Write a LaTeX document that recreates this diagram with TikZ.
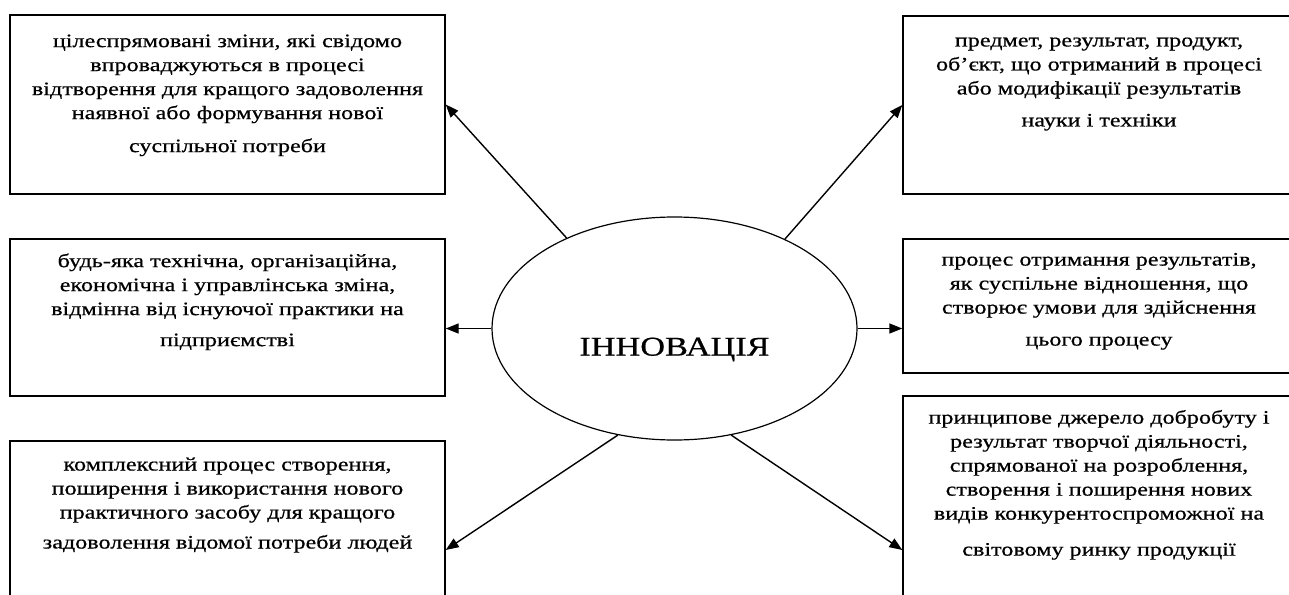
\documentclass[tikz,border=0pt]{standalone}
\usepackage{fontspec}
\setmainfont{Liberation Serif}[FakeStretch=1.27,FakeBold=0.6]
\usetikzlibrary{positioning}
\usetikzlibrary{shapes.geometric}
\usetikzlibrary{arrows.meta}

\begin{document}
\begin{tikzpicture}[x=1pt,y=-1pt,
  box/.style={draw,line width=1.4pt,rectangle,inner sep=0pt},
  txt/.style={align=center,inner sep=0pt,font=\fontsize{19}{24}\selectfont},
  arr/.style={line width=1.4pt,-{Triangle[length=13pt,width=10pt]}}]
 \useasboundingbox (0,0) rectangle (1289,594);
 \clip (0,0) rectangle (1289,594);
 % boxes on the left
 \node[box,minimum width=435pt,minimum height=179pt] (b1) at (227.5,104.5) {};
 \node[box,minimum width=435pt,minimum height=157pt] (b3) at (227.5,317.5) {};
 \node[box,minimum width=435pt,minimum height=218pt] (b5) at (227.5,550) {};
 % boxes on the right
 \node[box,minimum width=392pt,minimum height=178pt] (b2) at (1099,105) {};
 \node[box,minimum width=392pt,minimum height=134pt] (b4) at (1099,306) {};
 \node[box,minimum width=392pt,minimum height=308pt] (b6) at (1099,550) {};
 % texts
 \node[txt,below=20pt of b1.north] (t1) {цілеспрямовані зміни, які свідомо\\ впроваджуються в процесі\\ відтворення для кращого задоволення\\ наявної або формування нової\\[9pt] суспільної потреби};
 \node[txt,below=22pt of b2.north] (t2) {предмет, результат, продукт,\\ об’єкт, що отриманий в процесі\\ або модифікації результатів\\[8pt] науки і техніки};
 \node[txt,below=15pt of b3.north] (t3) {будь-яка технічна, організаційна,\\ економічна і управлінська зміна,\\ відмінна від існуючої практики на\\[7pt] підприємстві};
 \node[txt,below=14.5pt of b4.north] (t4) {процес отримання результатів,\\ як суспільне відношення, що\\ створює умови для здійснення\\[8pt] цього процесу};
 \node[txt,below=17pt of b5.north] (t5) {комплексний процес створення,\\ поширення і використання нового\\ практичного засобу для кращого\\[6pt] задоволення відомої потреби людей};
 \node[txt,below=14.5pt of b6.north] (t6) {принципове джерело добробуту і\\ результат творчої діяльності,\\ спрямованої на розроблення,\\ створення і поширення нових\\ видів конкурентоспроможної на\\[12pt] світовому ринку продукції};
 % centre
 \node[ellipse,draw,line width=1.2pt,minimum width=365pt,minimum height=223pt,inner sep=0pt,
   label={[yshift=-21pt,font=\fontsize{27}{30}\selectfont]center:ІННОВАЦІЯ}] (inn) at (674.5,328.5) {};
 % arrows
 \draw[arr] (inn.140) -- (b1.east);
 \draw[arr] (inn.39) -- (b2.west);
 \draw[arr] (inn.west) -- (inn.west -| b3.east);
 \draw[arr] (inn.east) -- (inn.east -| b4.west);
 \draw[arr] (inn.242) -- (b5.east);
 \draw[arr] (inn.298) -- (b6.west);
\end{tikzpicture}
\end{document}
